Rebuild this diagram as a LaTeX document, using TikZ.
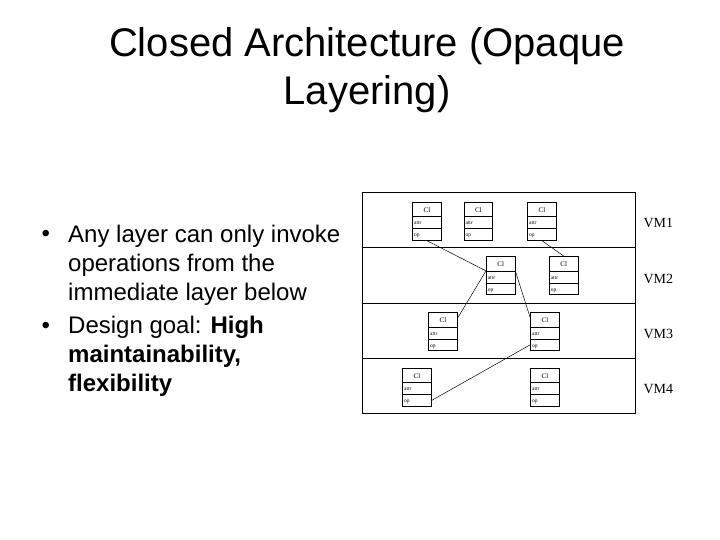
\documentclass[tikz,border=0pt]{standalone}
\usepackage{fontspec}
\setmainfont{Liberation Sans}
\newfontfamily\timesfont{Liberation Serif}
\usetikzlibrary{positioning,shapes.multipart}

% three compartments of a class box
\newcommand{\clsparts}{\rule[-4pt]{0pt}{14pt}{\fontsize{7}{7}\selectfont Cl}%
  \nodepart{two}\rule[-3.3pt]{0pt}{11.3pt}attr%
  \nodepart{three}\rule[-3.3pt]{0pt}{11.3pt}op}

\begin{document}
\begin{tikzpicture}[
    x=1pt,y=-1pt,
    title/.style={align=center,anchor=base,inner sep=0pt,font=\fontsize{40}{48}\selectfont},
    bullet/.style={align=left,anchor=base west,inner sep=0pt,font=\fontsize{24}{29}\selectfont},
    dot/.style={inner sep=0pt,font=\fontsize{24}{29}\selectfont},
    layer/.style={draw,line width=0.6pt,anchor=north west,minimum width=273pt,
      minimum height=55.25pt,inner sep=0pt},
    vmlabel/.style={anchor=base west,inner sep=0pt,font=\timesfont\fontsize{14}{14}\selectfont},
    cls/.style={draw,line width=0.6pt,anchor=north west,rectangle split,rectangle split parts=3,
      rectangle split part align={center,left,left},minimum width=28.7pt,
      inner xsep=1.5pt,inner ysep=0pt,font=\timesfont\fontsize{5.5}{5.5}\selectfont},
    link/.style={draw=black,line width=0.5pt}
  ]
    \useasboundingbox (0,0) rectangle (720,540);

    % base anchor of a multi-line node sits on its last line
    \node[title] (head) at (367,105) {Closed Architecture (Opaque\\Layering)};

    \node[dot] (dot1) at (45.8,235.5) {\textbullet};
    \node[bullet] (txt1) at (68,300) {Any layer can only invoke\\operations from the\\immediate layer below};
    \node[dot] (dot2) at (45.8,328.1) {\textbullet};
    \node[bullet] (txt2) at (68,391.7) {Design goal: \textbf{High}\\\textbf{maintainability,}\\\textbf{flexibility}};

    % layers
    \node[layer] (vm1) at (362,192) {};
    \node[layer] (vm2) at (362,247.25) {};
    \node[layer] (vm3) at (362,302.5) {};
    \node[layer] (vm4) at (362,357.75) {};
    \node[vmlabel] (lab1) at ([xshift=7.7pt,yshift=-8pt]vm1.east) {VM1};
    \node[vmlabel] (lab2) at ([xshift=7.7pt,yshift=-8pt]vm2.east) {VM2};
    \node[vmlabel] (lab3) at ([xshift=7.7pt,yshift=-8pt]vm3.east) {VM3};
    \node[vmlabel] (lab4) at ([xshift=7.7pt,yshift=-8pt]vm4.east) {VM4};

    % classes
    \node[cls] (c11) at (412.3,201.7) {\clsparts};
    \node[cls] (c12) at (463.7,201.7) {\clsparts};
    \node[cls] (c13) at (527.3,201.7) {\clsparts};
    \node[cls] (c21) at (486,256) {\clsparts};
    \node[cls] (c22) at (549,256) {\clsparts};
    \node[cls] (c31) at (428.3,312) {\clsparts};
    \node[cls] (c32) at (530.3,312) {\clsparts};
    \node[cls] (c41) at (402.3,367.7) {\clsparts};
    \node[cls] (c42) at (530.3,367.7) {\clsparts};

    \draw[link] (c11.south) -- (c21.text split west);
    \draw[link] (c13.south) -- (c22.north);
    \draw[link] (c21.text split west) -- ([yshift=-6pt]c31.north east);
    \draw[link] (c21.text split east) -- ([yshift=-6pt]c32.north west);
    \draw[link] (c32.three west) -- (c41.three east);
  \end{tikzpicture}
\end{document}
